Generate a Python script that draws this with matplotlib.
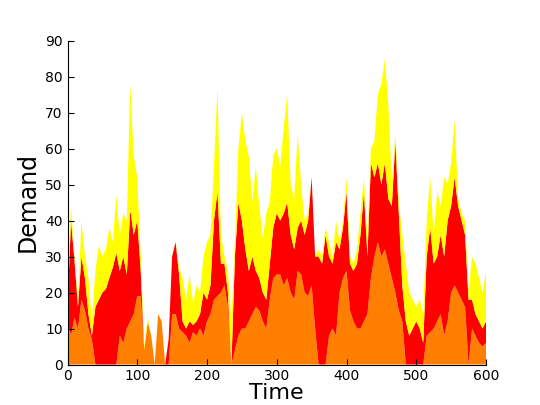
import numpy as np
import matplotlib
matplotlib.use('Agg')
import matplotlib.pyplot as plt

# time axis, sampled every 5 units
time = list(range(0, 601, 5))

# stacked layers (bottom to top)
base_demand = [
    12, 8, 13, 10, 18, 15, 10, 7, 0, 0, 0, 0, 0, 0, 0, 8, 6, 10, 12, 14,
    19, 19, 4, 12, 8, 0, 14, 12, 0, 0, 14, 14, 10, 9, 8, 6, 9, 8, 10, 8,
    12, 14, 18, 19, 20, 22, 16, 0, 4, 8, 10, 10, 12, 14, 16, 15, 12, 10, 18, 24,
    25, 25, 22, 24, 20, 18, 26, 25, 20, 19, 22, 10, 0, 0, 0, 8, 10, 8, 20, 24,
    26, 15, 12, 10, 10, 12, 14, 24, 30, 34, 30, 32, 28, 24, 20, 15, 12, 0, 0, 0,
    0, 0, 0, 8, 9, 10, 12, 14, 8, 12, 20, 22, 20, 18, 16, 0, 10, 8, 6, 5,
    6]
mid_demand = [
    4, 32, 16, 6, 12, 9, 4, 1, 16, 18, 20, 21, 24, 27, 31, 18, 24, 15, 31, 22,
    21, 7, 0, 0, 0, 0, 0, 0, 0, 7, 16, 20, 15, 3, 2, 6, 2, 4, 4, 12,
    6, 8, 22, 29, 8, 6, 4, 0, 26, 37, 30, 22, 14, 16, 10, 9, 8, 8, 10, 14,
    17, 15, 20, 21, 16, 14, 12, 15, 16, 21, 30, 20, 30, 28, 36, 22, 18, 26, 12, 14,
    22, 13, 14, 18, 26, 36, 16, 32, 22, 22, 20, 24, 18, 20, 42, 27, 10, 12, 8, 10,
    12, 10, 6, 22, 29, 18, 18, 22, 22, 28, 24, 30, 24, 22, 20, 18, 8, 6, 6, 5,
    6]
peak_demand = [
    4, 4, 1, 1, 10, 6, 10, 4, 10, 15, 10, 11, 14, 7, 16, 10, 12, 15, 35, 22,
    12, 4, 1, 1, 0, 0, 0, 0, 0, 0, 0, 0, 2, 12, 8, 13, 6, 10, 6, 10,
    16, 14, 15, 29, 8, 2, 6, 12, 4, 15, 30, 30, 32, 15, 29, 20, 15, 24, 17, 20,
    18, 15, 24, 30, 14, 14, 26, 10, 4, 2, 0, 0, 2, 2, 2, 4, 2, 6, 2, 2,
    4, 2, 2, 4, 6, 4, 4, 4, 10, 19, 28, 29, 26, 6, 2, 3, 14, 16, 12, 8,
    4, 8, 8, 10, 14, 8, 18, 8, 22, 10, 12, 16, 2, 2, 4, 2, 12, 14, 12, 10,
    14]

colors = ['#ff8000', '#ff0000', '#ffff00']


def main() -> None:
    fig, ax = plt.subplots(figsize=(5.4, 4.05), dpi=100)
    fig.subplots_adjust(left=0.125, right=0.9, top=0.9, bottom=0.1)

    ax.stackplot(time, base_demand, mid_demand, peak_demand,
                 colors=colors, linewidth=0)

    ax.set_xlim(0, 600)
    ax.set_ylim(0, 90)
    ax.set_xticks(range(0, 601, 100))
    ax.set_yticks(range(0, 91, 10))

    ax.spines['top'].set_visible(False)
    ax.spines['right'].set_visible(False)
    ax.tick_params(direction='in', length=4, labelsize=10,
                   top=False, right=False)

    ax.set_xlabel('Time', fontsize=16, labelpad=0)
    ax.set_ylabel('Demand', fontsize=17, labelpad=4)

    fig.savefig('out.png', dpi=100)


if __name__ == '__main__':
    main()
